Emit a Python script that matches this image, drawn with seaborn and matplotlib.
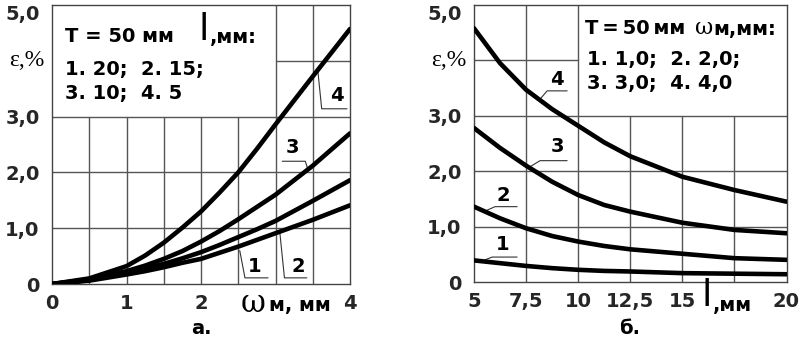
import numpy as np
import pandas as pd
import matplotlib
matplotlib.use("Agg")
import matplotlib.pyplot as plt
import seaborn as sns

# ---- data: panel a (epsilon, % vs omega_m, mm) ----
omega = [0, 0.5, 1.0, 1.25, 1.5, 1.75, 2.0, 2.25, 2.5, 2.75, 3.0, 3.5, 4.0]
eps_a1 = [0, 0.06, 0.17, 0.23, 0.30, 0.38, 0.45, 0.56, 0.67, 0.79, 0.91, 1.15, 1.41]
eps_a2 = [0, 0.07, 0.20, 0.28, 0.36, 0.46, 0.57, 0.70, 0.84, 0.98, 1.13, 1.49, 1.86]
eps_a3 = [0, 0.08, 0.23, 0.33, 0.45, 0.59, 0.76, 0.95, 1.16, 1.38, 1.60, 2.12, 2.70]
eps_a4 = [0, 0.10, 0.32, 0.51, 0.74, 1.01, 1.30, 1.64, 2.00, 2.42, 2.86, 3.72, 4.57]

# ---- data: panel b (epsilon, % vs l, mm) ----
l_mm = [5, 6.25, 7.5, 8.75, 10, 11.25, 12.5, 15, 17.5, 20]
eps_b1 = [0.39, 0.34, 0.29, 0.25, 0.22, 0.20, 0.19, 0.16, 0.15, 0.14]
eps_b2 = [1.36, 1.15, 0.97, 0.83, 0.73, 0.65, 0.59, 0.51, 0.43, 0.40]
eps_b3 = [2.78, 2.42, 2.10, 1.81, 1.57, 1.39, 1.27, 1.07, 0.94, 0.88]
eps_b4 = [4.58, 3.95, 3.47, 3.12, 2.82, 2.52, 2.27, 1.90, 1.66, 1.45]

curve_ids = ["1", "2", "3", "4"]
a_xticks = [0, 1, 2, 4]
a_xticklabels = ["0", "1", "2", "4"]
b_xticks = [5, 7.5, 10, 12.5, 15, 20]
b_xticklabels = ["5", "7,5", "10", "12,5", "15", "20"]
yticks = [0, 1, 2, 3, 5]
yticklabels = ["0", "1,0", "2,0", "3,0", "5,0"]

na = len(omega)
df_a = pd.DataFrame({
    "x": omega * 4,
    "y": eps_a1 + eps_a2 + eps_a3 + eps_a4,
    "c": [c for c in curve_ids for _ in range(na)],
})
nb = len(l_mm)
df_b = pd.DataFrame({
    "x": l_mm * 4,
    "y": eps_b1 + eps_b2 + eps_b3 + eps_b4,
    "c": [c for c in curve_ids for _ in range(nb)],
})

sns.set_style("white")
plt.rcParams["font.family"] = ["DejaVu Sans"]

W, H = 800, 340
fig = plt.figure(figsize=(8, 3.4), dpi=100)


def fx(px):
    return px / W


def fy(py):
    return 1 - py / H


axA = fig.add_axes([fx(52), fy(284), (350 - 52) / W, (284 - 5) / H])
axB = fig.add_axes([fx(474), fy(282), (786.5 - 474) / W, (282 - 5) / H])

GRID = dict(color="#555555", lw=1.0, zorder=1)
FS = 14
BOLD = dict(fontsize=FS, fontweight="bold", color="black", family="DejaVu Sans")

# ---------- panel a ----------
ax = axA
ax.set_xlim(0, 4)
ax.set_ylim(0, 5)
for v in [0.5, 1, 1.5, 2, 2.5]:
    ax.plot([v, v], [0, 3], **GRID)
for v in [3, 3.5]:
    ax.plot([v, v], [0, 5], **GRID)
for h in [1, 2, 3]:
    ax.plot([0, 4], [h, h], **GRID)
ax.plot([3, 4], [4, 4], **GRID)
sns.lineplot(data=df_a, x="x", y="y", units="c", estimator=None, color="black",
             lw=3.3, ax=ax, zorder=3, legend=False)

# ---------- panel b ----------
ax = axB
ax.set_xlim(5, 20)
ax.set_ylim(0, 5)
for v in [12.5, 15, 17.5]:
    ax.plot([v, v], [0, 3], **GRID)
for v in [7.5, 10]:
    ax.plot([v, v], [0, 5], **GRID)
for h in [1, 2, 3]:
    ax.plot([5, 20], [h, h], **GRID)
ax.plot([5, 10], [4, 4], **GRID)
sns.lineplot(data=df_b, x="x", y="y", units="c", estimator=None, color="black",
             lw=3.3, ax=ax, zorder=3, legend=False)

for ax, xt, xtl in [(axA, a_xticks, a_xticklabels), (axB, b_xticks, b_xticklabels)]:
    ax.set_xlabel("")
    ax.set_ylabel("")
    ax.set_xticks(xt)
    ax.set_xticklabels(xtl, fontsize=FS, fontweight="bold")
    ax.set_yticks(yticks)
    ax.set_yticklabels(yticklabels, fontsize=FS, fontweight="bold")
    ax.tick_params(length=0)
    ax.tick_params(axis="x", pad=7)
    ax.tick_params(axis="y", pad=9)
    ax.get_yticklabels()[-1].set_va("top")
    for s in ax.spines.values():
        s.set_color("#444444")
        s.set_linewidth(1.0)
    ax.text(-0.025, 0.8, "ε,%", transform=ax.transAxes, ha="right", va="center",
            fontsize=17, family=["Liberation Serif", "DejaVu Serif"], color="black")

# ---- leaders and curve numbers, panel a ----
LEAD = dict(color="#333333", lw=0.8, zorder=2)
axA.plot([3.57, 3.62, 3.96], [3.80, 3.14, 3.14], **LEAD)
axA.text(3.83, 3.38, "4", ha="center", va="center", **BOLD)
axA.plot([3.09, 3.40, 3.44], [2.20, 2.20, 2.03], **LEAD)
axA.text(3.23, 2.45, "3", ha="center", va="center", **BOLD)
axA.plot([2.52, 2.59, 2.90], [0.60, 0.11, 0.11], **LEAD)
axA.text(2.72, 0.31, "1", ha="center", va="center", **BOLD)
axA.plot([3.06, 3.12, 3.42], [0.90, 0.11, 0.11], **LEAD)
axA.text(3.30, 0.31, "2", ha="center", va="center", **BOLD)

# ---- leaders and curve numbers, panel b ----
axB.plot([8.17, 8.51, 9.47], [3.30, 3.45, 3.45], **LEAD)
axB.text(8.99, 3.65, "4", ha="center", va="center", **BOLD)
axB.plot([7.60, 8.17, 9.47], [2.06, 2.19, 2.19], **LEAD)
axB.text(8.99, 2.44, "3", ha="center", va="center", **BOLD)
axB.plot([5.53, 6.01, 7.07], [1.28, 1.36, 1.36], **LEAD)
axB.text(6.39, 1.57, "2", ha="center", va="center", **BOLD)
axB.plot([5.53, 5.87, 7.07], [0.40, 0.45, 0.45], **LEAD)
axB.text(6.35, 0.67, "1", ha="center", va="center", **BOLD)

# ---- text boxes ----
fig.text(fx(65), fy(36), "T = 50 мм", ha="left", va="center", **BOLD)
fig.text(fx(204), fy(30), "l", ha="center", va="center", fontsize=27,
         family="DejaVu Sans", color="black")
fig.text(fx(210), fy(37), ",мм:", ha="left", va="center", **BOLD)
fig.text(fx(65), fy(69), "1. 20;  2. 15;", ha="left", va="center", **BOLD)
fig.text(fx(65), fy(94), "3. 10;  4. 5", ha="left", va="center", **BOLD)

fig.text(fx(585), fy(29), "T\u2009=\u200950\u2009мм", ha="left", va="center", **BOLD)
fig.text(fx(704), fy(28), "ω", ha="center", va="center", fontsize=16,
         family=["DejaVu Serif"], color="black")
fig.text(fx(713), fy(30), "м,мм:", ha="left", va="center", **BOLD)
fig.text(fx(587), fy(59), "1. 1,0;  2. 2,0;", ha="left", va="center", **BOLD)
fig.text(fx(587), fy(84), "3. 3,0;  4. 4,0", ha="left", va="center", **BOLD)

# ---- axis labels ----
fig.text(fx(253), fy(304), "ω", ha="center", va="center", fontsize=22,
         family=["DejaVu Serif"], color="black")
fig.text(fx(269), fy(306), "м, мм", ha="left", va="center", **BOLD)
fig.text(fx(707), fy(296), "l", ha="center", va="center", fontsize=27,
         family="DejaVu Sans", color="black")
fig.text(fx(713), fy(305), ",мм", ha="left", va="center", **BOLD)

fig.text(fx(201), fy(328), "а.", ha="center", va="center", **BOLD)
fig.text(fx(630), fy(328), "б.", ha="center", va="center", **BOLD)

fig.savefig("out.png", dpi=100)
